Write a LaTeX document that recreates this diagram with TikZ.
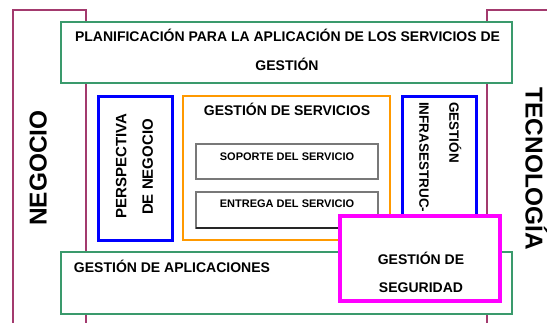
\documentclass[tikz,border=0pt]{standalone}
\usepackage{fontspec}
\setmainfont{Liberation Sans}
\definecolor{maroonc}{RGB}{163,58,110}
\definecolor{greenc}{RGB}{58,154,108}
\definecolor{bluec}{RGB}{0,0,255}
\definecolor{orangec}{RGB}{255,153,0}
\definecolor{magc}{RGB}{255,0,255}
\definecolor{grayc}{RGB}{120,120,120}
\begin{document}
\begin{tikzpicture}[x=1pt,y=-1pt,
  box/.style={draw, fill=white, rectangle, inner sep=0pt, outer sep=0pt},
  outerbox/.style={box, draw=maroonc, line width=2.5pt},
  greenbox/.style={box, draw=greenc, line width=2.7pt},
  bluebox/.style={box, draw=bluec, line width=3pt},
  orangebox/.style={box, draw=orangec, line width=2.7pt},
  graybox/.style={box, draw=grayc, line width=1.2pt},
  magbox/.style={box, draw=magc, line width=3.5pt},
  darkedge/.style={draw=black!85, line width=1.3pt},
  lbl/.style={inner sep=0pt, outer sep=0pt, text depth=0pt},
  fxiv/.style={lbl, font=\fontsize{14}{17}\selectfont\bfseries, text height=9.8pt},
  fxi/.style={lbl, font=\fontsize{11}{13}\selectfont\bfseries, text height=7.7pt},
  fxv/.style={lbl, font=\fontsize{15}{18}\selectfont\bfseries, text height=10.5pt},
  fxiii/.style={lbl, font=\fontsize{13.5}{16}\selectfont\bfseries, text height=9.4pt},
  fbig/.style={lbl, font=\fontsize{24.4}{28}\selectfont\bfseries, text height=17pt}]
\useasboundingbox (0,0) rectangle (547,322);
\clip (0,0) rectangle (547,322);
% boxes
\node[outerbox, minimum width=73pt, minimum height=340pt] (negbox) at (49.5,180) {};
\node[outerbox, minimum width=113pt, minimum height=340pt] (tecbox) at (543.5,180) {};
\node[greenbox, minimum width=451pt, minimum height=61pt] (planbox) at (286.5,52.5) {};
\node[bluebox, minimum width=74pt, minimum height=144pt] (persbox) at (135,168) {};
\node[orangebox, minimum width=207pt, minimum height=144pt] (servbox) at (286.5,168) {};
\node[graybox, minimum width=182pt, minimum height=35pt] (sopbox) at (287,161.5) {};
\node[graybox, minimum width=182pt, minimum height=36pt] (entbox) at (287,210) {};
\draw[darkedge] (entbox.south west) -- (entbox.south east);
\node[bluebox, minimum width=74pt, minimum height=144pt] (infbox) at (439,168) {};
\node[greenbox, minimum width=451pt, minimum height=62pt] (aplbox) at (286.5,283) {};
\node[magbox, minimum width=160pt, minimum height=85pt] (segbox) at (420,258.5) {};
% texts
\node[fbig, rotate=90] (negtxt) at (38,168) {NEGOCIO};
\node[fbig, rotate=-90] (tectxt) at (534,169) {TECNOLOGÍA};
\node[fxiv] (plan1) at (287.5,37) {PLANIFICACIÓN PARA LA APLICACIÓN DE LOS SERVICIOS DE};
\node[fxiv] (plan2) at (287,66) {GESTIÓN};
\node[fxv, rotate=90] (pers1) at (121,166) {PERSPECTIVA};
\node[fxv, rotate=90] (pers2) at (147.5,167) {DE NEGOCIO};
\node[fxiv] (servtxt) at (287,111) {GESTIÓN DE SERVICIOS};
\node[fxi] (soptxt) at (287,157) {SOPORTE DEL SERVICIO};
\node[fxi] (enttxt) at (287,204) {ENTREGA DEL SERVICIO};
\node[fxiii, rotate=-90, anchor=west] (inf1) at (454,102) {GESTIÓN};
\node[fxiii, rotate=-90, anchor=west] (inf2) at (424,102) {INFRASESTRUC-};
\node[fxiv, anchor=west] (apltxt) at (74,268) {GESTIÓN DE APLICACIONES};
\node[fxiv] (seg1) at (421,260) {GESTIÓN DE};
\node[fxiv] (seg2) at (421,288) {SEGURIDAD};
\end{tikzpicture}
\end{document}
